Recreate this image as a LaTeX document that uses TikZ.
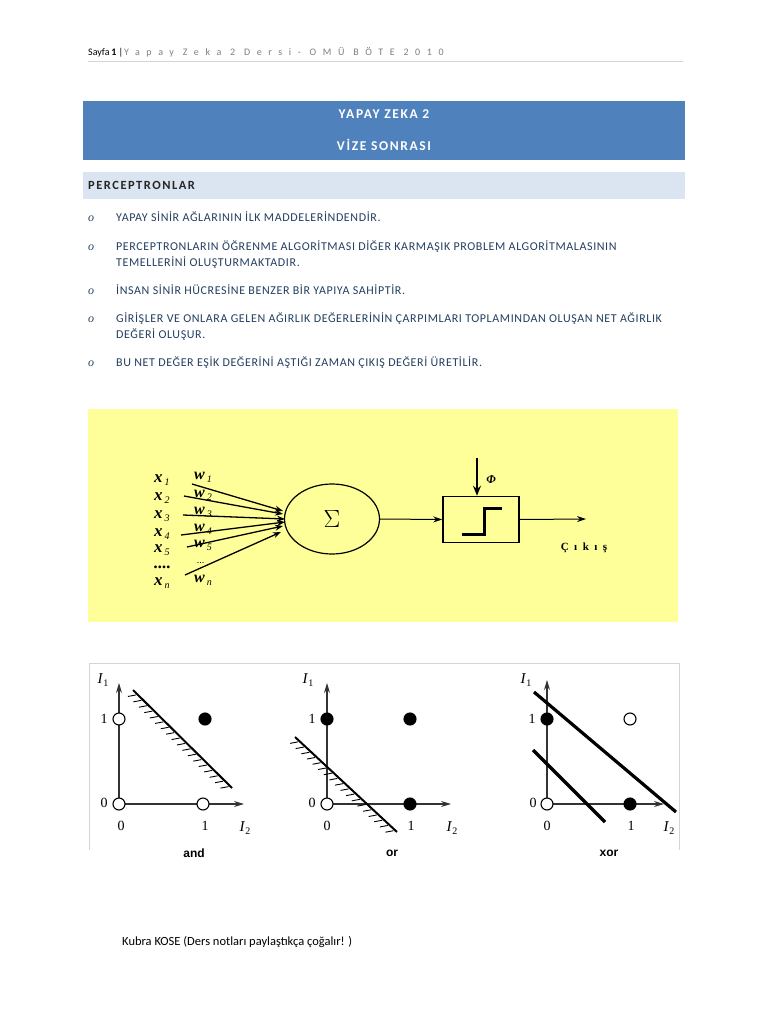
\documentclass[tikz,border=0pt]{standalone}
\usepackage{fontspec}
\setmainfont{Carlito}
\newfontfamily\serifb{Liberation Serif}
\newfontfamily\sansb{Liberation Sans}
\newfontfamily\hdrfont[LetterSpace=66]{Carlito}
\newfontfamily\bodyfont[LetterSpace=5]{Carlito}
\newfontfamily\ttlfont[LetterSpace=12]{Carlito}
\newfontfamily\cikfont[LetterSpace=50]{Liberation Serif}
\usetikzlibrary{arrows.meta,calc,shapes.geometric}
\definecolor{band}{HTML}{4F81BD}
\definecolor{lband}{HTML}{DBE5F1}
\definecolor{navy}{HTML}{243F60}
\definecolor{ybox}{HTML}{FFFF99}
\definecolor{hgray}{HTML}{7F7F7F}
\definecolor{frame}{HTML}{D4D4D4}
\tikzset{
  bodytxt/.style={anchor=base west, inner sep=0pt, text=navy, font=\bodyfont\fontsize{12}{14}\selectfont},
  bul/.style={anchor=base west, inner sep=0pt, text=navy, font=\serifb\itshape\fontsize{12}{12}\selectfont},
  ttl/.style={inner sep=0pt, text=white, font=\ttlfont\bfseries\fontsize{13.5}{14}\selectfont},
  xlab/.style={anchor=base west, inner sep=0pt, text height=8pt, text depth=3pt, font=\serifb\bfseries\itshape\fontsize{17}{17}\selectfont},
  wlab/.style={anchor=base west, inner sep=0pt, text height=8pt, text depth=3pt, font=\serifb\bfseries\itshape\fontsize{16}{16}\selectfont},
  dotlab/.style={anchor=base west, inner sep=0pt, text height=2pt, text depth=0pt},
  inarr/.style={line width=1.3pt, -{Stealth[length=8pt,width=6pt]}},
  flowarr/.style={line width=1pt, -{Stealth[length=9pt,width=6pt]}},
  axis/.style={line width=1.1pt, draw=black!80, -{Stealth[length=10pt,width=6pt]}},
  opn/.style={circle, draw=black, line width=1.1pt, fill=white, minimum size=12pt, inner sep=0pt},
  fil/.style={circle, draw=black, line width=1.1pt, fill=black, minimum size=12pt, inner sep=0pt},
  num/.style={inner sep=0pt, font=\serifb\fontsize{14}{14}\selectfont},
  ilab/.style={inner sep=0pt, font=\serifb\fontsize{15}{15}\selectfont},
  chartcap/.style={inner sep=0pt, font=\sansb\bfseries\fontsize{12}{12}\selectfont},
  sepline/.style={line width=3.2pt},
  hatchline/.style={line width=2pt},
  hatch/.style={line width=0.9pt}
}
\newcommand{\Ilab}[1]{\textit{I}\raisebox{-3pt}{\fontsize{10}{10}\selectfont #1}}
\newcommand{\xl}[1]{x\hspace{2pt}\raisebox{-3pt}{\fontsize{10}{10}\selectfont\mdseries #1}}
\newcommand{\wl}[1]{w\hspace{2pt}\raisebox{-3pt}{\fontsize{10}{10}\selectfont\mdseries #1}}
\begin{document}
\begin{tikzpicture}[x=1pt,y=-1pt]
\useasboundingbox (0,0) rectangle (768,1024);
\fill[white] (0,0) rectangle (768,1024);
% header
\node[anchor=base west, inner sep=0pt, font=\fontsize{10}{12}\selectfont] (pg) at (88,56) {Sayfa\,\textbf{1} |};
\node[anchor=base west, inner sep=0pt, text=hgray, font=\hdrfont\fontsize{10}{12}\selectfont] (hd) at (124,56) {Yapay Zeka 2 Dersi- OMÜ BÖTE 2010};
\draw[frame, line width=0.8pt] (88,61) -- (683,61);
% title band
\fill[band] (83,101) rectangle (685,160);
\node[ttl] (t1) at (384,114) {YAPAY ZEKA 2};
\node[ttl] (t2) at (384,145) {VİZE SONRASI};
\fill[lband] (83,172) rectangle (685,199);
\node[anchor=base west, inner sep=0pt, text=black!85, font=\ttlfont\bfseries\fontsize{12.5}{14}\selectfont] (pc) at (88,189.5) {PERCEPTRONLAR};
% bullets
\foreach \yy in {222,250,294,322,366} \node[bul] at (88,\yy) {o};
\node[bodytxt] (b1) at (116,222) {YAPAY SİNİR AĞLARININ İLK MADDELERİNDENDİR.};
\node[bodytxt] (b2) at (116,250) {PERCEPTRONLARIN ÖĞRENME ALGORİTMASI DİĞER KARMAŞIK PROBLEM ALGORİTMALASININ};
\node[bodytxt] (b2b) at (116,266) {TEMELLERİNİ OLUŞTURMAKTADIR.};
\node[bodytxt] (b3) at (116,294) {İNSAN SİNİR HÜCRESİNE BENZER BİR YAPIYA SAHİPTİR.};
\node[bodytxt] (b4) at (116,322) {GİRİŞLER VE ONLARA GELEN AĞIRLIK DEĞERLERİNİN ÇARPIMLARI TOPLAMINDAN OLUŞAN NET AĞIRLIK};
\node[bodytxt] (b4b) at (116,338) {DEĞERİ OLUŞUR.};
\node[bodytxt] (b5) at (116,366) {BU NET DEĞER EŞİK DEĞERİNİ AŞTIĞI ZAMAN ÇIKIŞ DEĞERİ ÜRETİLİR.};
% perceptron box
\fill[ybox] (88,409) rectangle (678,622);
\node[xlab] (x1) at (154,482) {\xl{1}};
\node[xlab] (x2) at (154,500) {\xl{2}};
\node[xlab] (x3) at (154,518) {\xl{3}};
\node[xlab] (x4) at (154,536) {\xl{4}};
\node[xlab] (x5) at (154,552) {\xl{5}};
\node[xlab, dotlab] (xd) at (154,568) {....};
\node[xlab] (xn) at (154,585) {\xl{n}};
\node[wlab] (w1) at (194,479) {\wl{1}};
\node[wlab] (w2) at (194,497) {\wl{2}};
\node[wlab] (w3) at (194,514) {\wl{3}};
\node[wlab] (w4) at (194,531) {\wl{4}};
\node[wlab] (w5) at (194,547) {\wl{5}};
\node[wlab, dotlab] (wd) at (197,563) {\fontsize{10}{10}\selectfont\mdseries ...};
\node[wlab] (wn) at (194,582) {\wl{n}};
\node[ellipse, draw, line width=1.2pt, minimum width=95pt, minimum height=70pt, inner sep=0pt, font=\fontsize{26}{26}\selectfont] (sum) at (332,519) {$\Sigma$};
\coordinate (s1) at (192,484);
\coordinate (s2) at (184,496);
\coordinate (s3) at (183,515);
\coordinate (s4) at (181,535);
\coordinate (s5) at (187,547);
\coordinate (sn) at (185,575);
\draw[inarr] (s1) -- (283,511);
\draw[inarr] (s2) -- (283,514);
\draw[inarr] (s3) -- (285,519);
\draw[inarr] (s4) -- (285,522);
\draw[inarr] (s5) -- (283,526);
\draw[inarr] (sn) -- (281,532);
\node[draw, line width=1.5pt, minimum width=76pt, minimum height=46pt, inner sep=0pt] (act) at (481,519.5) {};
\draw[line width=3pt] ($(act.center)+(-19,15)$) -- ($(act.center)+(3,15)$) -- ($(act.center)+(3,-11)$) -- ($(act.center)+(21,-11)$);
\draw[flowarr] (sum.east) -- (act.west);
\coordinate (phi) at (477,458);
\draw[line width=1.5pt, -{Stealth[length=10pt,width=8pt]}] (phi) -- (phi |- act.north);
\node[inner sep=0pt, font=\serifb\bfseries\itshape\fontsize{12}{12}\selectfont] (phil) at (491,480) {Φ};
\coordinate (out) at (586,519);
\draw[flowarr] (act.east) -- (out);
\node[inner sep=0pt, font=\cikfont\bfseries\fontsize{11}{11}\selectfont] (cik) at (584,548) {Çıkış};
% chart frame
\draw[frame, line width=0.8pt] (89,850) -- (89,663) -- (679,663) -- (679,850);
% chart AND
\coordinate (o1) at (119,804);
\draw[axis] (o1) -- (119,683);
\draw[axis] (o1) -- (244,804);
\draw[hatchline] (133,690) -- (232,788);
\foreach \t in {0.03,0.085,...,1.0} \draw[hatch] ($(133,690)!\t!(232,788)+(0,2)$) -- ++(-8,1.5);
\node[opn] (a01) at (119,719) {};
\node[opn] (a00) at (119,804) {};
\node[opn] (a10) at (203,804) {};
\node[fil] (a11) at (205,719) {};
\node[ilab] (ai1) at (103,680) {\Ilab{1}};
\node[num] (ay1) at (104,719) {1};
\node[num] (ay0) at (104,803) {0};
\node[num] (ax0) at (121,826) {0};
\node[num] (ax1) at (205,826) {1};
\node[ilab] (ai2) at (245,828) {\Ilab{2}};
\node[chartcap] (cand) at (194,853) {and};
% chart OR
\coordinate (o2) at (327,804);
\draw[axis] (o2) -- (327,683);
\draw[axis] (o2) -- (451,804);
\draw[hatchline] (295,737) -- (397,832);
\foreach \t in {0.03,0.085,...,1.0} \draw[hatch] ($(295,737)!\t!(397,832)+(0,2)$) -- ++(-8,1.5);
\node[fil] (r01) at (327,719) {};
\node[opn] (r00) at (327,804) {};
\node[fil] (r10) at (410,804) {};
\node[fil] (r11) at (410,719) {};
\node[ilab] (ri1) at (308,680) {\Ilab{1}};
\node[num] (ry1) at (312,719) {1};
\node[num] (ry0) at (312,803) {0};
\node[num] (rx0) at (327,826) {0};
\node[num] (rx1) at (411,826) {1};
\node[ilab] (ri2) at (452,828) {\Ilab{2}};
\node[chartcap] (cor) at (392,853) {or};
% chart XOR
\coordinate (o3) at (547,804);
\draw[axis] (o3) -- (547,680);
\draw[axis] (o3) -- (664,804);
\draw[sepline] (534,692) -- (676,812);
\draw[sepline] (533,750) -- (605,822);
\node[fil] (q01) at (547,719) {};
\node[opn] (q00) at (547,804) {};
\node[fil] (q10) at (630,804) {};
\node[opn] (q11) at (630,719) {};
\node[ilab] (qi1) at (526,680) {\Ilab{1}};
\node[num] (qy1) at (532,719) {1};
\node[num] (qy0) at (533,803) {0};
\node[num] (qx0) at (547,826) {0};
\node[num] (qx1) at (631,826) {1};
\node[ilab] (qi2) at (669,828) {\Ilab{2}};
\node[chartcap] (cxor) at (609,853) {xor};
% footer
\node[anchor=base west, inner sep=0pt, font=\fontsize{12.5}{14}\selectfont] (ft) at (122,945) {Kubra KOSE (Ders notları paylaştıkça çoğalır! )};
\end{tikzpicture}
\end{document}
